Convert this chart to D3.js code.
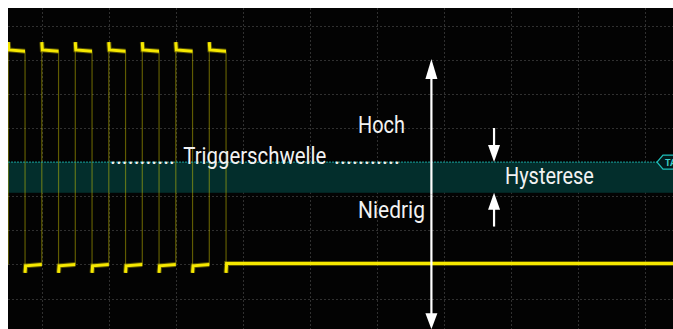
<!DOCTYPE html>
<html>
<head>
<meta charset="utf-8">
<script src="https://cdn.jsdelivr.net/npm/d3@7"></script>
<style>
  html, body { margin: 0; padding: 0; background: #ffffff; overflow: hidden; }
  svg { display: block; }
  .grid line { stroke: #303030; stroke-width: 1; stroke-dasharray: 2,2; shape-rendering: crispEdges; }
  .grid .domain { display: none; }
  .label { font-family: Roboto, "Open Sans", sans-serif; fill: #f2f2f2; font-size: 24.5px; }
</style>
</head>
<body>
<svg id="chart" width="673" height="329"></svg>
<script>
// Horizontal time in screen divisions, vertical level in divisions above the trigger threshold
const timeTicks = [0, 1, 2, 3, 4, 5, 6, 7, 8, 9];
const levelTicks = [-4, -3, -2, -1, 0, 1, 2, 3, 4];

// Square-wave burst: edge times (div)
const risingEdges  = [-0.5, 0, 0.5, 1.0, 1.5, 2.0, 2.5];
const fallingEdges = [-0.25, 0.25, 0.75, 1.25, 1.75, 2.25, 2.75];

// Signal levels (div)
const highOvershoot = 3.52;
const highLevel = [3.29, 3.25];     // start / end of high plateau
const lowUndershoot = -3.25;
const lowLevel = [-3.04, -3.0];     // start / end of low plateau
const idleLevel = -2.97;            // after the burst

// Trigger threshold and hysteresis band (div)
const triggerLevel = 0;
const hysteresisLevel = -0.9;

// Annotation arrows (time, from level, to level)
const rangeArrow = { t: 5.815, from: 3.02, to: -4.9 };
const hystArrows = [
  { t: 6.75, from: 1.0, to: 0 },
  { t: 6.75, from: -1.89, to: -0.9 }
];

const plot = { left: 8, top: 8, right: 673, bottom: 329 };

const x = d3.scaleLinear().domain([0, 9]).range([41.8, 644.8]);
const y = d3.scaleLinear().domain([-4, 4]).range([298.5, 25.7]);
const tMax = x.invert(plot.right);

const svg = d3.select("#chart");

svg.append("defs").append("clipPath").attr("id", "plotClip")
  .append("rect")
  .attr("x", plot.left).attr("y", plot.top)
  .attr("width", plot.right - plot.left).attr("height", plot.bottom - plot.top);

// Screen background
svg.append("rect")
  .attr("x", plot.left).attr("y", plot.top)
  .attr("width", plot.right - plot.left).attr("height", plot.bottom - plot.top)
  .attr("fill", "#030303");

const g = svg.append("g").attr("clip-path", "url(#plotClip)");

// Grid
g.append("g").attr("class", "grid")
  .attr("transform", `translate(0,${plot.top})`)
  .call(d3.axisTop(x).tickValues(timeTicks).tickSize(-(plot.bottom - plot.top)).tickFormat(""));
g.append("g").attr("class", "grid")
  .attr("transform", `translate(${plot.left},0)`)
  .call(d3.axisLeft(y).tickValues(levelTicks).tickSize(-(plot.right - plot.left)).tickFormat(""));

// Hysteresis band
g.append("rect")
  .attr("x", plot.left).attr("y", y(triggerLevel))
  .attr("width", plot.right - plot.left)
  .attr("height", y(hysteresisLevel) - y(triggerLevel))
  .attr("fill", "#032e2c");

const line = d3.line().x(d => x(d[0])).y(d => y(d[1]));

// Fast edges are drawn dim, as on a phosphor display
const edges = [];
risingEdges.forEach(t => edges.push([[t, lowLevel[1]], [t, highOvershoot]]));
fallingEdges.forEach(t => edges.push([[t, highLevel[1]], [t, lowUndershoot]]));
g.append("g").selectAll("path").data(edges).join("path")
  .attr("d", line)
  .attr("fill", "none")
  .attr("stroke", "rgba(225,215,0,0.42)")
  .attr("stroke-width", 1.2);

// Plateaus
const plateaus = [];
risingEdges.forEach((r, i) => {
  const f = fallingEdges[i];
  plateaus.push([[r, highOvershoot], [r + 0.008, highLevel[0]], [f, highLevel[1]]]);
  const next = risingEdges[i + 1];
  if (next !== undefined) {
    plateaus.push([[f, lowUndershoot], [f + 0.008, lowLevel[0]], [next, lowLevel[1]]]);
  } else {
    plateaus.push([[f, lowUndershoot], [f + 0.008, idleLevel], [tMax, idleLevel]]);
  }
});
const traces = g.append("g");
traces.selectAll("path.fuzz").data(plateaus).join("path")
  .attr("class", "fuzz")
  .attr("d", line)
  .attr("fill", "none")
  .attr("stroke", "rgba(235,220,0,0.35)")
  .attr("stroke-width", 5);
traces.selectAll("path.core").data(plateaus).join("path")
  .attr("class", "core")
  .attr("d", line)
  .attr("fill", "none")
  .attr("stroke", "#f6e800")
  .attr("stroke-width", 3);

// Trigger threshold line and marker
const tagX = 657;
const ty = y(triggerLevel);
g.append("line")
  .attr("x1", plot.left).attr("x2", tagX)
  .attr("y1", ty).attr("y2", ty)
  .attr("stroke", "#17a7a2").attr("stroke-width", 1).attr("stroke-dasharray", "2,1");
g.append("path")
  .attr("d", `M${tagX},${ty} L${tagX + 6},${ty - 7} L${tagX + 24},${ty - 7} L${tagX + 24},${ty + 7} L${tagX + 6},${ty + 7} Z`)
  .attr("fill", "#021a1a").attr("stroke", "#1fc0ba").attr("stroke-width", 1.3);
g.append("text")
  .attr("x", tagX + 8).attr("y", ty + 3.5)
  .attr("font-family", "Roboto, sans-serif").attr("font-size", 9).attr("font-weight", 700)
  .attr("fill", "#3fd0ca").text("TA");

// Arrows
function arrow(sel, a, head) {
  const x0 = x(a.t), y0 = y(a.from), y1 = y(a.to);
  const dir = y1 > y0 ? 1 : -1;
  sel.append("line")
    .attr("x1", x0).attr("x2", x0)
    .attr("y1", y0).attr("y2", y1 - dir * head.len * 0.5)
    .attr("stroke", "#ffffff").attr("stroke-width", 2.2);
  sel.append("path")
    .attr("d", `M${x0},${y1} L${x0 - head.w / 2},${y1 - dir * head.len} L${x0 + head.w / 2},${y1 - dir * head.len} Z`)
    .attr("fill", "#ffffff");
}
const ann = g.append("g");
// double-headed range arrow
const mid = (rangeArrow.from + rangeArrow.to) / 2;
arrow(ann, { t: rangeArrow.t, from: mid, to: rangeArrow.from }, { w: 12, len: 20 });
arrow(ann, { t: rangeArrow.t, from: mid, to: rangeArrow.to }, { w: 12, len: 16 });
hystArrows.forEach(a => arrow(ann, a, { w: 12, len: 17 }));

// Labels, condensed horizontally to their target widths
const labels = [
  { text: "...........", x: 110, y: 164.3, w: 65 },
  { text: "Triggerschwelle", x: 183.3, y: 164.3, w: 143 },
  { text: "...........", x: 334, y: 164.3, w: 66 },
  { text: "Hoch", x: 358, y: 132.5, w: 47 },
  { text: "Niedrig", x: 358, y: 218, w: 67 },
  { text: "Hysterese", x: 505, y: 184.3, w: 89 }
];
g.append("g").selectAll("text").data(labels).join("text")
  .attr("class", "label")
  .attr("x", 0).attr("y", 0)
  .text(d => d.text)
  .each(function (d) {
    const natural = this.getComputedTextLength();
    const sx = natural > 0 ? d.w / natural : 1;
    d3.select(this).attr("transform", `translate(${d.x},${d.y}) scale(${sx},1)`);
  });
</script>
</body>
</html>
